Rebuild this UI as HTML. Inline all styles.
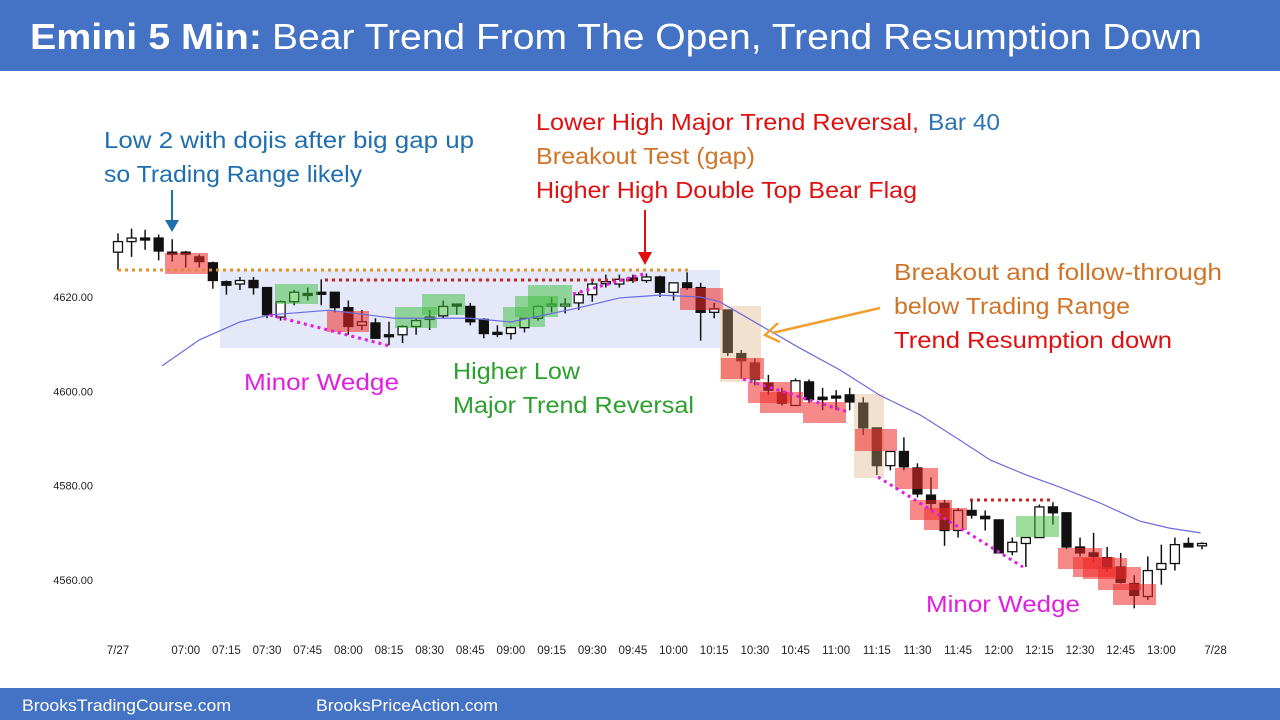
<!DOCTYPE html>
<html><head><meta charset="utf-8"><style>
html,body{margin:0;padding:0;background:#fff;}
svg{display:block;font-family:"Liberation Sans",sans-serif;}
</style></head><body>
<svg id="chart" width="1280" height="720" viewBox="0 0 1280 720">
<rect x="0" y="0" width="1280" height="71" fill="#4472c4"/>
<text x="30" y="49" fill="#fff" font-size="36"><tspan font-weight="bold" textLength="232" lengthAdjust="spacingAndGlyphs">Emini 5 Min:</tspan><tspan x="272" textLength="930" lengthAdjust="spacingAndGlyphs">Bear Trend From The Open, Trend Resumption Down</tspan></text>
<rect x="0" y="688" width="1280" height="32" fill="#4472c4"/>
<text x="22" y="711" fill="#fff" font-size="17" textLength="209" lengthAdjust="spacingAndGlyphs">BrooksTradingCourse.com</text>
<text x="316" y="711" fill="#fff" font-size="17" textLength="182" lengthAdjust="spacingAndGlyphs">BrooksPriceAction.com</text>
<rect x="220" y="270" width="500" height="78" fill="#e4e8f8"/>
<g id="candles"></g>
<g id="boxes"></g>
<g id="overlay"></g>
<g id="axes"></g>
<g id="notes" font-size="23">
<text x="104" y="148" fill="#1f6fb0" textLength="370" lengthAdjust="spacingAndGlyphs">Low 2 with dojis after big gap up</text>
<text x="104" y="182" fill="#1f6fb0" textLength="258" lengthAdjust="spacingAndGlyphs">so Trading Range likely</text>
<text x="536" y="130" fill="#e01010"><tspan textLength="383" lengthAdjust="spacingAndGlyphs">Lower High Major Trend Reversal,</tspan><tspan x="928" fill="#2e75b6" textLength="72" lengthAdjust="spacingAndGlyphs">Bar 40</tspan></text>
<text x="536" y="164" fill="#d07428" textLength="219" lengthAdjust="spacingAndGlyphs">Breakout Test (gap)</text>
<text x="536" y="198" fill="#e01010" textLength="381" lengthAdjust="spacingAndGlyphs">Higher High Double Top Bear Flag</text>
<text x="894" y="280" fill="#d07428" textLength="328" lengthAdjust="spacingAndGlyphs">Breakout and follow-through</text>
<text x="894" y="314" fill="#d07428" textLength="236" lengthAdjust="spacingAndGlyphs">below Trading Range</text>
<text x="894" y="348" fill="#e01010" textLength="278" lengthAdjust="spacingAndGlyphs">Trend Resumption down</text>
<text x="244" y="390" fill="#e020e0" textLength="155" lengthAdjust="spacingAndGlyphs">Minor Wedge</text>
<text x="926" y="612" fill="#e020e0" textLength="154" lengthAdjust="spacingAndGlyphs">Minor Wedge</text>
<text x="453" y="379" fill="#2ca02c" textLength="127" lengthAdjust="spacingAndGlyphs">Higher Low</text>
<text x="453" y="413" fill="#2ca02c" textLength="241" lengthAdjust="spacingAndGlyphs">Major Trend Reversal</text>
</g>
<g>
<line x1="172" y1="190" x2="172" y2="224" stroke="#1f6fb0" stroke-width="2"/>
<polygon points="165,220 179,220 172,232" fill="#1f6fb0"/>
<line x1="645" y1="210" x2="645" y2="255" stroke="#e01010" stroke-width="2"/>
<polygon points="638,252 652,252 645,265" fill="#e01010"/>
<line x1="880" y1="308" x2="772" y2="333" stroke="#f0a030" stroke-width="2.5"/>
<polyline points="778,323 765,335 780,342" fill="none" stroke="#f0a030" stroke-width="2.5"/>
</g>
</svg>
<script>
const opens=[4629.5,4631.75,4632.5,4632.5,4629.5,4629.5,4628.5,4627.25,4623.25,4622.75,4623.5,4622,4615.75,4619,4620.75,4621,4621,4617.75,4614,4614.5,4612,4612,4613.75,4615.25,4616,4618.5,4618,4615.25,4612.5,4612.25,4613.5,4615.5,4618.25,4618.25,4618.75,4620.5,4623,4622.75,4624,4623.5,4624.25,4621,4623,4622,4616.75,4617.25,4608,4606,4601.75,4599.75,4597,4602,4598.75,4599,4599.25,4597.5,4592.25,4584.25,4587.25,4583.75,4578,4576.25,4570.5,4574.75,4573.5,4572.75,4566,4567.75,4569,4575.5,4574.25,4567,4565.75,4564.75,4562.75,4559.25,4556.5,4562.25,4563.5,4567.75,4567.25];
const highs=[4633.5,4634.5,4634.25,4633.25,4632.25,4629.75,4629,4627.5,4623.5,4624.25,4624.25,4622,4619.25,4621.5,4622,4623.75,4621,4619.25,4617.25,4615.5,4614.75,4614,4615.5,4617.25,4619.25,4618.5,4618.75,4615.5,4614,4613.75,4615.5,4618.25,4620,4619.75,4621,4623.25,4624.75,4624.75,4624.75,4625,4624.5,4623,4625.25,4623,4618.75,4617.25,4608.75,4607,4603.5,4600.75,4602.75,4602.5,4600.75,4600.25,4600.75,4598.75,4592.25,4587.25,4590.25,4584.75,4581.75,4577,4575.25,4577,4574.75,4572.75,4569,4569,4576,4576.5,4574.25,4569,4570,4567,4565.75,4561,4565,4567.5,4569,4569,4568];
const lows=[4625.75,4628.5,4630,4627.75,4627.5,4626.25,4626.25,4621.75,4620.5,4621.5,4620.5,4615.5,4615,4618.25,4619.25,4618.25,4616.75,4612,4613,4611.25,4609.75,4610.25,4612,4613,4615.5,4616.25,4614,4611.25,4611.5,4611,4612.5,4615,4616.75,4616.5,4617.25,4619,4622,4622,4623,4623,4620,4619.25,4621.5,4610.75,4615.5,4607.5,4602.75,4601.25,4599.25,4597,4597,4597.5,4596,4596,4596,4590.75,4582.25,4583.25,4583.25,4577.5,4574.75,4567.25,4569,4573,4570.5,4565.75,4565.25,4562.75,4569,4571.75,4566.5,4565,4563.75,4561.75,4559.25,4554,4555.75,4559,4562,4567,4566.5];
const closes=[4631.75,4632.5,4632.25,4629.75,4629.25,4629.25,4627.5,4623.5,4622.5,4623.5,4622,4616.25,4619,4621,4620.5,4620.75,4617.75,4613.75,4614.75,4611.25,4611.75,4613.75,4615,4615.75,4618,4618.25,4614.75,4612.25,4612.25,4613.5,4615.5,4618,4618.5,4618.5,4620.5,4622.75,4623.25,4623.75,4623.5,4624.25,4621,4623,4622,4616.75,4617.5,4608.25,4606.5,4602.5,4600.25,4597.5,4602.25,4598.25,4598.25,4598.75,4597.75,4592.25,4584.25,4587.25,4584,4578.25,4576.25,4570.5,4574.75,4573.75,4573,4565.75,4568,4569,4575.5,4574.25,4567,4565.75,4565,4562.5,4559.5,4556.75,4562,4563.5,4567.5,4567,4567.75];
const emaIdx=[3.25,6,9,11.2,15.6,20.4,26,29,34,37,40,43,44.4,47.4,50.3,53.3,56.2,59.2,62.1,64.4,67,69.5,72.5,75.4,77.6,79.9];
const emaVals=[4605.4,4610.9,4614.7,4616.2,4617.2,4615.5,4615.5,4614.7,4617.7,4619.8,4620.4,4620,4619,4614,4609.2,4604.5,4599.2,4595,4589.7,4585.4,4582.3,4579.7,4576.3,4572.5,4571,4570];
const yTicks=[4620,4600,4580,4560];
const xTickLabels=["7/27","07:00","07:15","07:30","07:45","08:00","08:15","08:30","08:45","09:00","09:15","09:30","09:45","10:00","10:15","10:30","10:45","11:00","11:15","11:30","11:45","12:00","12:15","12:30","12:45","13:00","7/28"];
const xTickBars=[0,5,8,11,14,17,20,23,26,29,32,35,38,41,44,47,50,53,56,59,62,65,68,71,74,77,81];

const NS="http://www.w3.org/2000/svg";
const X=i=>118+i*13.55;
const Y=p=>297+(4620-p)*4.717;
function mk(tag,attrs,parent){const e=document.createElementNS(NS,tag);for(const k in attrs)e.setAttribute(k,attrs[k]);parent.appendChild(e);return e;}
const cg=document.getElementById('candles');
for(let i=0;i<opens.length;i++){
  const g=mk('g',{},cg);
  
  
  const x=X(i);
  mk('line',{x1:x,x2:x,y1:Y(highs[i]),y2:Y(lows[i]),stroke:'#111','stroke-width':1.5},g);
  const up=closes[i]>=opens[i];
  const t=Y(Math.max(opens[i],closes[i])),b=Y(Math.min(opens[i],closes[i]));
  mk('rect',{x:x-4.5,y:t,width:9,height:Math.max(b-t,2),fill:up?'#fff':'#111',stroke:'#111','stroke-width':1.3},g);
}
// annotation boxes
const boxes=[[165,253,43,21,'r'],[327,311,42,21,'r'],[275,284,43,20,'g'],[395,307,42,21,'g'],[422,294,43,21,'g'],[503,307,42,20,'g'],[515,296,43,21,'g'],[528,285,44,22,'g'],[680,288,43,22,'r'],
[720,306,41,76,'t'],[721,358,43,21,'r'],[748,382,43,21,'r'],[760,392,43,21,'r'],[803,402,43,21,'r'],[854,394,30,84,'t'],[855,429,42,22,'r'],[895,468,43,21,'r'],[910,500,42,20,'r'],[924,508,43,22,'r'],[1016,516,43,21,'g'],[1058,548,44,21,'r'],[1073,557,42,20,'r'],[1083,558,44,21,'r'],[1098,567,43,23,'r'],[1113,584,43,21,'r']];
const bg=document.getElementById('boxes');
const col={r:'rgba(240,40,40,0.55)',g:'rgba(60,190,60,0.5)',t:'rgba(220,170,120,0.35)'};
boxes.forEach((b,k)=>{const r=mk('rect',{x:b[0],y:b[1],width:b[2],height:b[3],fill:col[b[4]]},bg);
 
 });
const og=document.getElementById('overlay');
const pts=emaIdx.map((v,k)=>X(v)+','+Y(emaVals[k])).join(' ');
const ema=mk('polyline',{points:pts,fill:'none',stroke:'#6b6be0','stroke-width':1.2},og);


const lines=[[118,270,688,270,'#e0902a',3],[325,280,640,280,'#d02020',3],[270,315,390,346,'#e020e0',3],[573,294,647,273,'#e020e0',3],[743,379,848,412,'#e020e0',3],[878,477,1023,567,'#e020e0',3],[970,500,1052,500,'#d02020',3]];
lines.forEach((l,k)=>{const e=mk('line',{x1:l[0],y1:l[1],x2:l[2],y2:l[3],stroke:l[4],'stroke-width':l[5],'stroke-dasharray':'3,4'},og);
 
 });
const ag=document.getElementById('axes');
yTicks.forEach(v=>{const t=mk('text',{x:93,y:Y(v)+4,'font-size':11,'text-anchor':'end',fill:'#222'},ag);t.textContent=v.toFixed(2);
 
 });
xTickLabels.forEach((s,k)=>{const t=mk('text',{x:X(xTickBars[k]),y:654,'font-size':11.5,'text-anchor':'middle',fill:'#222'},ag);t.textContent=s;
 
 });
</script>
</body></html>
